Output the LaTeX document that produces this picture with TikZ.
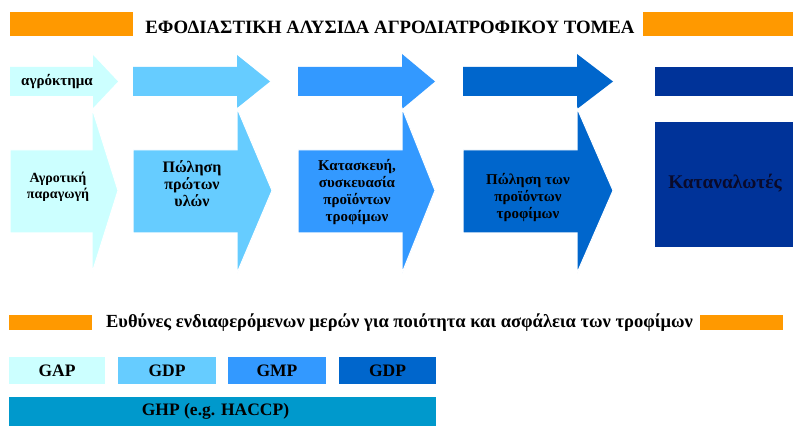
\documentclass[tikz,border=0pt]{standalone}
\usepackage{fontspec}
\setmainfont{Liberation Serif}
\definecolor{cA}{HTML}{CCFFFF}
\definecolor{cB}{HTML}{66CCFF}
\definecolor{cC}{HTML}{3399FF}
\definecolor{cD}{HTML}{0066CC}
\definecolor{cE}{HTML}{003399}
\definecolor{cG}{HTML}{0099CC}
\definecolor{orng}{HTML}{FF9900}
\definecolor{darktxt}{HTML}{0A0A2A}
\begin{document}
\begin{tikzpicture}[x=1pt,y=-1pt,
  lbl/.style={font=\bfseries\fontsize{15}{17}\selectfont, align=center, inner sep=0pt, text=black},
  boxt/.style={font=\bfseries\fontsize{17.5}{20}\selectfont, inner sep=0pt, text=black},
  band/.style={inner sep=0pt, minimum height=27pt},
  lower/.style={draw=white, line width=1pt}]
\useasboundingbox (0,0) rectangle (804,433);
\fill[white] (0,0) rectangle (804,433);
% title
\fill[orng] (10,12) rectangle (133,36);
\fill[orng] (643,12) rectangle (793,36);
\node[font=\bfseries\fontsize{18.8}{20}\selectfont, inner sep=0pt] (title) at (390,27) {ΕΦΟΔΙΑΣΤΙΚΗ ΑΛΥΣΙΔΑ ΑΓΡΟΔΙΑΤΡΟΦΙΚΟΥ ΤΟΜΕΑ};
% top arrows
\fill[cA] (10,67) -- (93,67) -- (93,55) -- (118,81.5) -- (93,108) -- (93,96) -- (10,96) -- cycle;
\fill[cB] (133,67) -- (237,67) -- (237,55) -- (270,81.5) -- (237,108) -- (237,96) -- (133,96) -- cycle;
\fill[cC] (298,67) -- (402,67) -- (402,54) -- (435,81.5) -- (402,109) -- (402,96) -- (298,96) -- cycle;
\fill[cD] (463,67) -- (577,67) -- (577,54) -- (613,81.5) -- (577,109) -- (577,96) -- (463,96) -- cycle;
\fill[cE] (655,67) rectangle (793,96);
\node[lbl] (farm) at (57,82) {αγρόκτημα};
% lower arrows
\filldraw[fill=cA, lower] (10,150) -- (92,150) -- (92,108) -- (118,190.5) -- (92,273) -- (92,233) -- (10,233) -- cycle;
\filldraw[fill=cB, lower] (133,150) -- (237,150) -- (237,108) -- (272,190.5) -- (237,273) -- (237,233) -- (133,233) -- cycle;
\filldraw[fill=cC, lower] (298,150) -- (402,150) -- (402,108) -- (435,190.5) -- (402,273) -- (402,233) -- (298,233) -- cycle;
\filldraw[fill=cD, lower] (463,150) -- (577,150) -- (577,108) -- (613,190.5) -- (577,273) -- (577,233) -- (463,233) -- cycle;
\fill[cE] (655,122) rectangle (793,247);
\node[lbl, font=\bfseries\fontsize{14}{16}\selectfont] (agr) at (58,187) {Αγροτική\\παραγωγή};
\node[lbl, font=\bfseries\fontsize{16}{17}\selectfont] (raw) at (192,184) {Πώληση\\πρώτων\\υλών};
\node[lbl] (manu) at (357,192) {Κατασκευή,\\συσκευασία\\προϊόντων\\τροφίμων};
\node[lbl] (sell) at (528,197.5) {Πώληση των\\προϊόντων\\τροφίμων};
\node[font=\bfseries\fontsize{19.3}{21}\selectfont, inner sep=0pt, text=darktxt] (cons) at (725,183) {Καταναλωτές};
% responsibilities
\fill[orng] (9,315) rectangle (92,330);
\fill[orng] (700,315) rectangle (783,330);
\node[font=\bfseries\fontsize{18.5}{20}\selectfont, inner sep=0pt] (resp) at (399.5,323) {Ευθύνες ενδιαφερόμενων μερών για ποιότητα και ασφάλεια των τροφίμων};
\node[band, fill=cA, minimum width=96pt] (gap) at (57,370.5) {};
\node[band, fill=cB, minimum width=98pt] (gdp) at (167,370.5) {};
\node[band, fill=cC, minimum width=98pt] (gmp) at (277,370.5) {};
\node[band, fill=cD, minimum width=97pt] (gdpb) at (387.5,370.5) {};
\node[boxt] at (gap) {GAP};
\node[boxt] at (gdp) {GDP};
\node[boxt] at (gmp) {GMP};
\node[boxt] at (gdpb) {GDP};
\node[inner sep=0pt, fill=cG, minimum width=427pt, minimum height=29pt] (ghp) at (222.5,411.5) {};
\node[boxt] (ghptxt) at ([xshift=-7pt]ghp.center) {GHP (e.g. HACCP)};
\end{tikzpicture}
\end{document}
